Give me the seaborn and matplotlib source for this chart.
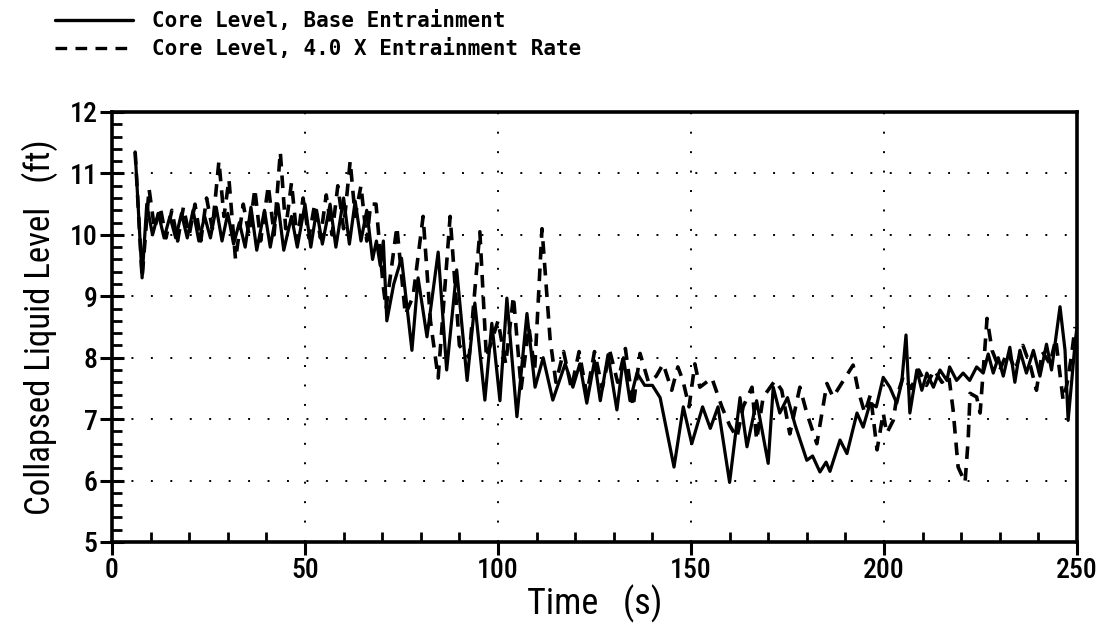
import matplotlib
matplotlib.use("Agg")
import matplotlib.pyplot as plt
from matplotlib.lines import Line2D
from matplotlib.ticker import MultipleLocator
from matplotlib import font_manager
import seaborn as sns
import pandas as pd

# ---------------- data ----------------
base_t = [6, 7.8, 9, 10.5, 12, 13.5, 15, 16.5, 18, 19.5, 21, 22.5, 24, 25.5, 27, 28.5,
          30, 31.5, 33, 34.5, 36, 37.5, 39.5, 41, 43, 44.5, 46.5, 48, 50, 51.5, 53, 54.5,
          56.5, 58, 60, 61.5, 63, 64.5, 66, 67.5, 68.5, 69.5, 70.3, 71.2, 73, 75, 77.7,
          79.3, 81.6, 84.5, 86.7, 89.3, 92, 94, 96.6, 98.4, 100.5, 102.3, 104.9, 107.5,
          109.6, 111.7, 114.2, 117.4, 119.4, 121.2, 123, 125, 126.5, 128.5, 130.8, 132.5,
          134.2, 136, 138, 140, 142, 145.6, 148, 150.2, 153, 155, 157, 160, 162.7, 164.5,
          167, 170, 171.3, 173, 175, 177, 180, 181.5, 183.4, 185, 186, 188.6, 190.4, 193,
          194.6, 196.4, 198, 199.8, 201.5, 203.3, 204.6, 205.7, 206.7, 208.5, 209.8, 211.1,
          212.8, 214.5, 216.3, 217, 218.8, 220.5, 222.2, 224, 225.7, 227, 228.3, 229.6,
          230.9, 232.6, 233.9, 235.2, 236.9, 238.7, 240.4, 242.1, 243.4, 245.6, 246.9,
          247.7, 248.6, 249.5, 250]
base_y = [11.35, 9.3, 10.5, 10.0, 10.35, 9.95, 10.3, 9.95, 10.35, 9.95, 10.4, 9.9, 10.3,
          9.95, 10.45, 9.9, 10.35, 9.85, 10.2, 9.8, 10.45, 9.75, 10.4, 9.8, 10.5, 9.75,
          10.3, 9.8, 10.5, 9.8, 10.4, 9.85, 10.5, 9.8, 10.6, 9.85, 10.55, 9.9, 10.4, 9.6,
          9.9, 9.5, 9.9, 8.6, 9.2, 9.62, 8.12, 9.3, 8.34, 9.72, 7.8, 9.43, 7.63, 8.89,
          7.31, 8.56, 7.3, 8.97, 7.04, 8.72, 7.52, 8.0, 7.31, 7.9, 7.52, 7.9, 7.26, 7.95,
          7.3, 8.05, 7.15, 8.0, 7.3, 7.75, 7.55, 7.55, 7.35, 6.22, 7.2, 6.6, 7.2, 6.85,
          7.2, 5.97, 7.35, 6.55, 7.3, 6.28, 7.52, 7.1, 7.35, 6.9, 6.33, 6.4, 6.14, 6.3,
          6.15, 6.66, 6.44, 7.1, 6.87, 7.26, 7.2, 7.68, 7.52, 7.26, 7.6, 8.37, 7.1, 7.8,
          7.47, 7.75, 7.52, 7.8, 7.63, 7.85, 7.63, 7.75, 7.63, 7.85, 7.75, 8.06, 7.75,
          8.0, 7.7, 8.17, 7.6, 8.12, 7.75, 8.12, 7.7, 8.22, 7.8, 8.83, 8.12, 6.98, 7.6,
          8.24, 8.5]

ent_t = [6, 7.8, 9.6, 11, 12.5, 14, 15.5, 17, 18.5, 20, 21.5, 23, 24.5, 26, 27.7, 29,
         30.3, 32, 34, 35.5, 37, 38.5, 40.5, 42, 43.6, 45, 46.5, 48, 49.5, 51, 52.5, 54,
         55.5, 57, 58.5, 60, 61.7, 63, 64.5, 66, 67, 68.4, 70.2, 71, 73.8, 76, 78, 80.6,
         82.5, 84.5, 87.6, 90, 92.5, 95.3, 97, 100, 102, 104, 106, 108, 109.5, 111.4,
         113.5, 115, 117, 119, 121, 123, 125, 127, 129, 131, 133, 135, 136.8, 139, 141,
         142.8, 145, 146.6, 147.9, 149.5, 151, 152.3, 155.4, 158, 160, 161.9, 163.5,
         165.8, 167, 168.7, 171.8, 173.5, 175.6, 178.2, 180, 182.6, 185.2, 186.8, 189.5,
         192, 193.3, 195, 196.5, 198.2, 199.8, 200.7, 202.4, 203.3, 205, 207, 209, 211,
         213, 215, 216.8, 217.9, 219.2, 221, 221.8, 222.3, 224, 224.9, 226.7, 228, 230,
         232, 234, 236, 238, 239.5, 241, 243, 244.5, 246.4, 247.5, 248.5, 249.5]
ent_y = [11.35, 9.3, 10.75, 10.1, 10.45, 9.95, 10.4, 9.9, 10.45, 10.0, 10.5, 9.9, 10.6,
         10.1, 11.2, 10.3, 10.9, 9.6, 10.5, 10.0, 10.75, 9.9, 10.8, 10.0, 11.35, 10.1,
         10.85, 9.9, 10.6, 9.95, 10.5, 9.95, 10.65, 10.0, 10.8, 10.1, 11.2, 10.3, 10.8,
         9.9, 10.5, 10.5, 9.2, 8.8, 10.13, 8.7, 9.0, 10.3, 8.6, 7.67, 10.3, 8.2, 8.0,
         10.05, 8.0, 8.6, 7.9, 9.0, 7.5, 8.5, 7.8, 10.1, 8.3, 7.6, 8.1, 7.5, 8.1, 7.4,
         8.1, 7.5, 8.1, 7.6, 8.15, 7.2, 8.07, 7.6, 7.7, 7.9, 7.47, 7.85, 7.63, 7.2, 7.9,
         7.52, 7.67, 7.2, 6.9, 6.7, 7.2, 7.52, 6.66, 7.36, 7.63, 7.47, 6.76, 7.52, 7.1,
         6.6, 7.58, 7.36, 7.63, 7.88, 7.47, 7.1, 7.4, 6.5, 7.1, 6.77, 6.98, 7.36, 7.7,
         7.5, 7.8, 7.55, 7.8, 7.6, 7.7, 7.15, 6.22, 5.97, 6.66, 7.42, 7.36, 7.1, 8.64,
         8.12, 7.8, 8.1, 7.8, 8.2, 7.85, 7.47, 8.1, 7.9, 8.3, 7.31, 7.6, 8.0, 8.5]

series_labels = ["Core Level, Base Entrainment", "Core Level, 4.0 X Entrainment Rate"]
x_ticks = [0, 50, 100, 150, 200, 250]
y_ticks = [5, 6, 7, 8, 9, 10, 11, 12]

# ---------------- fonts ----------------
installed = {f.name for f in font_manager.fontManager.ttflist}
narrow_candidates = ["Liberation Sans Narrow", "Roboto Condensed", "Open Sans Condensed",
                     "DejaVu Sans"]
narrow = [f for f in narrow_candidates if f in installed] or ["DejaVu Sans"]
narrow_name = narrow[0]
is_narrow = narrow_name != "DejaVu Sans"

# ---------------- style ----------------
sns.set_style("white")
plt.rcParams["font.family"] = [narrow_name, "DejaVu Sans"]
plt.rcParams["font.stretch"] = "condensed"
plt.rcParams["text.color"] = "black"
plt.rcParams["axes.labelcolor"] = "black"
plt.rcParams["xtick.color"] = "black"
plt.rcParams["ytick.color"] = "black"

fig = plt.figure(figsize=(10.99, 6.26), dpi=100)
ax = fig.add_axes([112 / 1099, 1 - 542 / 626, (1077 - 112) / 1099, (542 - 112) / 626])

df_b = pd.DataFrame({"t": base_t, "y": base_y})
df_e = pd.DataFrame({"t": ent_t, "y": ent_y})
sns.lineplot(data=df_b, x="t", y="y", ax=ax, color="black", lw=2.3,
             estimator=None, sort=False, solid_joinstyle="round")
sns.lineplot(data=df_e, x="t", y="y", ax=ax, color="black", lw=2.6,
             estimator=None, sort=False, dashes=False, linestyle=(0, (3.5, 2.5)))

ax.set_xlim(0, 250)
ax.set_ylim(5, 12)
ax.set_xticks(x_ticks)
ax.set_yticks(y_ticks)
ax.xaxis.set_minor_locator(MultipleLocator(10))
ax.yaxis.set_minor_locator(MultipleLocator(0.2))

for s in ax.spines.values():
    s.set_visible(True)
    s.set_linewidth(2.6)
    s.set_color("black")

lab_size = 20 if is_narrow else 16
ax.tick_params(axis="x", which="major", direction="out", length=9, width=2.2,
               labelsize=lab_size, pad=2, bottom=True)
ax.tick_params(axis="y", which="major", direction="inout", length=17, width=2.2,
               labelsize=lab_size, pad=2, left=True)
ax.tick_params(axis="x", which="minor", direction="in", length=7, width=2.0, bottom=True)
ax.tick_params(axis="y", which="minor", direction="in", length=7, width=2.0, left=True)
for lbl in ax.get_xticklabels() + ax.get_yticklabels():
    lbl.set_fontweight("medium")

ax.grid(True, which="major", color="black", lw=1.4, linestyle=(0, (1, 9)))

ax.set_xlabel("Time   (s)", fontsize=26 if is_narrow else 22, labelpad=0)
ax.set_ylabel("Collapsed Liquid Level   (ft)", fontsize=25 if is_narrow else 19,
              labelpad=8)

# ---------------- legend at the top ----------------
mono = ["DejaVu Sans Mono"]
rows_y = [1 - 20 / 626, 1 - 48 / 626]
styles = ["-", (0, (3.5, 2.5))]
for yy, lab, ls in zip(rows_y, series_labels, styles):
    fig.add_artist(Line2D([55 / 1099, 133 / 1099], [yy, yy], color="black", lw=2.4,
                          linestyle=ls, transform=fig.transFigure))
    fig.text(152 / 1099, yy, lab, family=mono, fontsize=15, fontweight="bold",
             va="center", ha="left", color="black")

fig.savefig("out.png", dpi=100)
